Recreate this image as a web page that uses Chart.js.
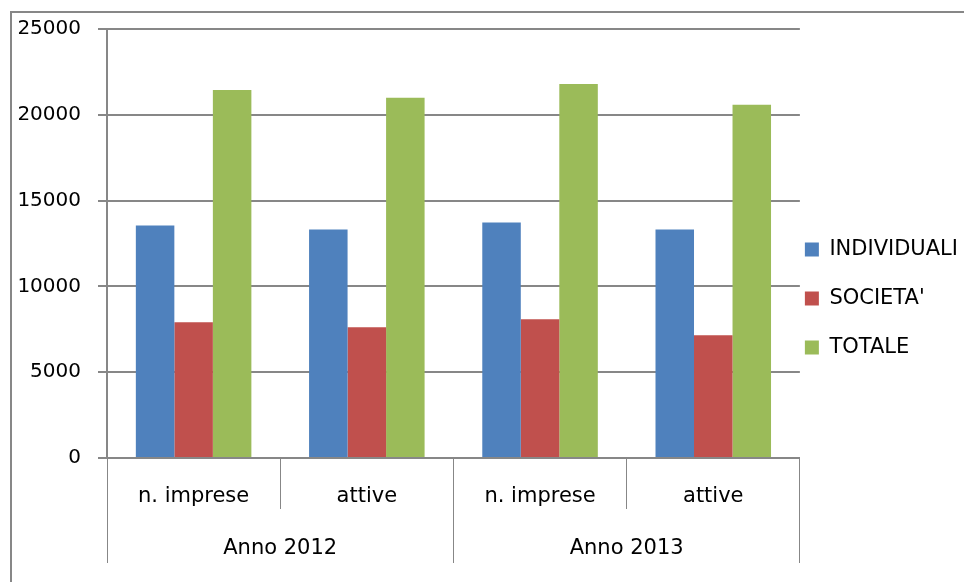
<!DOCTYPE html>
<html lang="it">
<head>
  <meta charset="UTF-8" />
  <title>Imprese</title>
  <script src="https://cdn.jsdelivr.net/npm/chart.js"></script>
  <style>
    html, body { margin: 0; padding: 0; background: #fff; overflow: hidden; }
    canvas { display: block; }
  </style>
</head>
<body>
  <canvas id="chart" width="964" height="582"></canvas>

  <script>
    const categories = ['n. imprese', 'attive', 'n. imprese', 'attive'];
    const years = ['Anno 2012', 'Anno 2013'];
    const individuali = [13550, 13310, 13720, 13310];
    const societa = [7910, 7620, 8080, 7150];
    const totale = [21450, 20990, 21800, 20580];
    const yTicks = [0, 5000, 10000, 15000, 20000, 25000];

    const gridGray = '#878787';
    const font = 'DejaVu Sans';

    // moves the built-in legend next to the plot, like the original
    const legendShift = {
      id: 'legendShift',
      afterLayout(chart) {
        const lg = chart.legend;
        const dx = lg.left - (chart.chartArea.right + 5 - lg.options.labels.padding);
        lg.left -= dx;
        lg.right -= dx;
        const dy = lg.top - (239 - lg.options.labels.padding);
        lg.top -= dy;
        lg.bottom -= dy;
      }
    };

    // outer chart frame: only its top and left edges are in view
    const frame = {
      id: 'frame',
      afterDraw(chart) {
        const ctx = chart.ctx;
        ctx.save();
        ctx.strokeStyle = gridGray;
        ctx.lineWidth = 2;
        ctx.beginPath();
        ctx.moveTo(11, chart.height);
        ctx.lineTo(11, 12);
        ctx.lineTo(chart.width, 12);
        ctx.stroke();
        ctx.restore();
      }
    };

    new Chart(document.getElementById('chart').getContext('2d'), {
      type: 'bar',
      data: {
        labels: categories,
        datasets: [
          { label: 'INDIVIDUALI', data: individuali, backgroundColor: '#4F81BD' },
          { label: "SOCIETA'", data: societa, backgroundColor: '#C0504D' },
          { label: 'TOTALE', data: totale, backgroundColor: '#9BBB59' }
        ]
      },
      options: {
        responsive: false,
        devicePixelRatio: 1,
        animation: false,
        datasets: { bar: { categoryPercentage: 0.667, barPercentage: 1 } },
        layout: { padding: { left: 0, top: 29, right: -27, bottom: 19 } },
        plugins: {
          tooltip: { enabled: false },
          legend: {
            position: 'right',
            align: 'start',
            labels: {
              boxWidth: 14,
              boxHeight: 14,
              padding: 28,
              color: '#000',
              font: { family: font, size: 21 }
            }
          }
        },
        scales: {
          x: {
            weight: 0,
            offset: true,
            grid: {
              offset: true,
              drawOnChartArea: false,
              drawTicks: true,
              tickLength: 51,
              color: gridGray,
              lineWidth: 1
            },
            border: { display: true, color: gridGray, width: 2 },
            ticks: {
              color: '#000',
              padding: -25,
              maxRotation: 0,
              autoSkip: false,
              font: { family: font, size: 21 }
            },
            afterFit(scale) { scale.height = 51; }
          },
          x2: {
            type: 'category',
            position: 'bottom',
            weight: 1,
            labels: years,
            offset: true,
            grid: {
              offset: true,
              drawOnChartArea: false,
              drawTicks: true,
              tickLength: 54,
              color: gridGray,
              lineWidth: 1
            },
            border: { display: false },
            ticks: {
              color: '#000',
              padding: -27,
              maxRotation: 0,
              font: { family: font, size: 21 }
            },
            afterFit(scale) { scale.height = 54; }
          },
          y: {
            min: 0,
            max: 25000,
            afterBuildTicks(scale) { scale.ticks = yTicks.map(v => ({ value: v })); },
            grid: {
              color: gridGray,
              lineWidth: 2,
              drawTicks: true,
              tickLength: 9
            },
            border: { display: true, color: gridGray, width: 2 },
            ticks: {
              color: '#000',
              padding: 17,
              callback: v => String(v),
              font: { family: font, size: 20 }
            },
            afterFit(scale) { scale.width = 107; }
          }
        }
      },
      plugins: [legendShift, frame]
    });
  </script>
</body>
</html>
